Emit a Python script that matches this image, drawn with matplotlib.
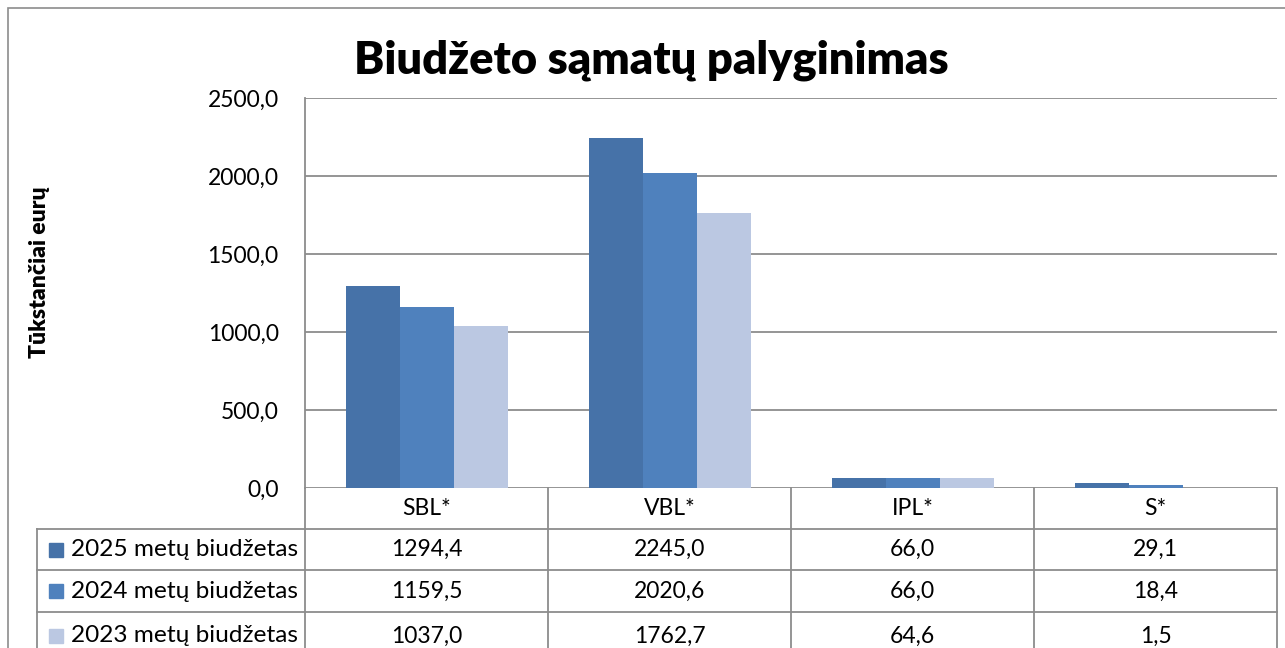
import matplotlib
matplotlib.use('Agg')
import matplotlib.pyplot as plt
from matplotlib.transforms import blended_transform_factory
from matplotlib.patches import Rectangle
import numpy as np

categories = ['SBL*', 'VBL*', 'IPL*', 'S*']
series_names = ['2025 metų biudžetas', '2024 metų biudžetas', '2023 metų biudžetas']
values_2025 = [1294.4, 2245.0, 66.0, 29.1]
values_2024 = [1159.5, 2020.6, 66.0, 18.4]
values_2023 = [1037.0, 1762.7, 64.6, 1.5]
yticks = [0, 500, 1000, 1500, 2000, 2500]
title = 'Biudžeto sąmatų palyginimas'
ylabel = 'Tūkstančiai eurų'

series = [values_2025, values_2024, values_2023]
colors = ['#4672A8', '#4F81BD', '#BBC8E2']
grid_c = '#8C8C8C'

plt.rcParams['font.family'] = ['Lato', 'DejaVu Sans']

W, H = 1285, 648
fig = plt.figure(figsize=(W / 100, H / 100), dpi=100)

def fy(px):
    return (H - px) / H

# outer chart frame (extends past the crop)
fig.patches.append(Rectangle((7.5 / W, fy(700)), 1.2, (700 - 8) / H,
                             transform=fig.transFigure, fill=False,
                             edgecolor=grid_c, linewidth=1.2))

ax = fig.add_axes([305 / W, fy(488), (1277 - 305) / W, 390 / H])
x = np.arange(len(categories))
bw = 54 / 243
for i, (vals, c) in enumerate(zip(series, colors)):
    ax.bar(x + (i - 1) * bw, vals, width=bw, color=c, edgecolor='none', zorder=3)

ax.set_xlim(-0.5, len(categories) - 0.5)
ax.set_ylim(0, 2500)
ax.set_yticks(yticks)
ax.set_yticklabels([f'{v:.1f}'.replace('.', ',') for v in yticks], fontsize=16.5)
ax.tick_params(axis='y', length=0, pad=19)
ax.set_xticks([])
for s in ['top', 'right', 'bottom']:
    ax.spines[s].set_visible(False)
ax.spines['left'].set_color(grid_c)
ax.spines['left'].set_linewidth(1.3)
ax.yaxis.grid(True, color=grid_c, linewidth=1.3, zorder=1)
ax.set_axisbelow(True)

# data table
tr = blended_transform_factory(ax.transData, ax.transAxes)
def ay(px):
    return (488 - px) / 390

row_px = [488, 529, 570, 612, 660]
xl = -0.5 + (37 - 305) / 243
lk = dict(color=grid_c, linewidth=1.3, transform=tr, clip_on=False)
for rp in row_px[1:4]:
    ax.plot([xl, len(categories) - 0.5], [ay(rp), ay(rp)], **lk)
ax.plot([xl, xl], [ay(529), ay(660)], **lk)
for b in np.arange(len(categories) + 1) - 0.5:
    ax.plot([b, b], [ay(488), ay(660)], **lk)

for j, cat in enumerate(categories):
    ax.text(j, ay((488 + 529) / 2), cat, transform=tr, ha='center', va='center',
            fontsize=16.5, clip_on=False)
for i, (name, vals, c) in enumerate(zip(series_names, series, colors)):
    yc = ay((row_px[i + 1] + row_px[i + 2]) / 2)
    for j, v in enumerate(vals):
        ax.text(j, yc, f'{v:.1f}'.replace('.', ','), transform=tr, ha='center',
                va='center', fontsize=16.5, clip_on=False)
    cy = (row_px[i + 1] + row_px[i + 2]) / 2
    fig.patches.append(Rectangle((49 / W, fy(cy + 7)), 14 / W, 14 / H,
                                 transform=fig.transFigure, color=c))
    fig.text(71 / W, fy(cy), name, ha='left', va='center', fontsize=17.6)

fig.text(651 / W, fy(60), title, ha='center', va='center', fontsize=32.6,
         fontweight='heavy')
fig.text(40 / W, fy(272), ylabel, ha='center', va='center', rotation=90,
         fontsize=16.5, fontweight='heavy')

fig.savefig('out.png', dpi=100)
